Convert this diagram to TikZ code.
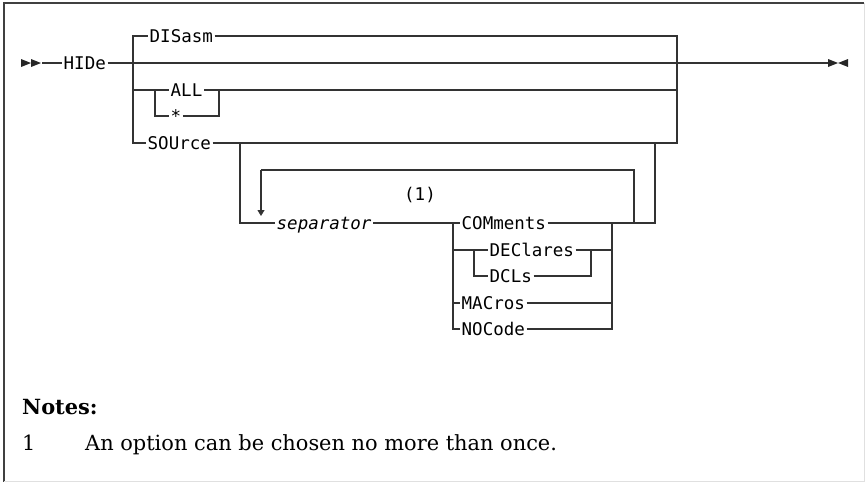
\documentclass[tikz,border=0pt]{standalone}
\usepackage{fontspec}
\newfontfamily\railfont{DejaVu Sans Mono}
\newfontfamily\notefont{DejaVu Serif}
\usepackage{tikz}
\usetikzlibrary{positioning,arrows.meta}

\tikzset{
  kw/.style={font=\railfont\fontsize{17.5}{19}\selectfont,inner xsep=1.5pt,inner ysep=0pt,
    text height=12pt,text depth=0pt,anchor=west},
  var/.style={kw,font=\railfont\itshape\fontsize{17.5}{19}\selectfont},
  rail/.style={line width=1.1pt,draw=black!80},
  tip/.style={fill=black!85,draw=none},
  note/.style={anchor=base west,font=\notefont\fontsize{20.9}{24}\selectfont,inner sep=0pt},
}

\begin{document}
\begin{tikzpicture}[x=1pt,y=-1pt]
\useasboundingbox (0,0) rectangle (865,482);
% ---- frame ----
\draw[black!75,line width=1.2pt] (4,482) -- (4,3) -- (864,3);
\draw[black!12,line width=1pt] (864,3) -- (864,481) -- (4,481);
% ---- keywords ----
\node[kw] (hide)  at (62,63)  {HIDe};
\node[kw] (dis)   at (148,36) {DISasm};
\node[kw] (all)   at (169,90) {ALL};
\node[kw] (star)  at (169,116) {*};
\node[kw] (src)   at (146,143) {SOUrce};
\node[var] (sep)  at (275,223) {separator};
\node[kw] (com)   at (460,223) {COMments};
\node[kw] (dec)   at (488,250) {DEClares};
\node[kw] (dcl)   at (488,276) {DCLs};
\node[kw] (mac)   at (460,303) {MACros};
\node[kw] (noc)   at (460,329) {NOCode};
\node[font=\railfont\fontsize{17.5}{19}\selectfont] (ref) at (420,195) {(1)};
% ---- junctions ----
\coordinate (start) at (42,63);
\coordinate (stop)  at (828,63);
\coordinate (jl) at (133,63);
\coordinate (jr) at (677,63);
\coordinate (al) at (155,90);
\coordinate (ar) at (219,90);
\coordinate (sl) at (240,143);
\coordinate (sr) at (655,143);
\coordinate (rl) at (261,170);
\coordinate (rr) at (634,170);
\coordinate (cl) at (453,223);
\coordinate (cr) at (612,223);
\coordinate (dl) at (474,250);
\coordinate (dr) at (591,250);
% ---- start and end marks ----
\fill[tip] (21,59) -- (31,63) -- (21,67) -- cycle;
\fill[tip] (31,59) -- (41,63) -- (31,67) -- cycle;
\fill[tip] (828,59) -- (838,63) -- (828,67) -- cycle;
\fill[tip] (848,59) -- (838,63) -- (848,67) -- cycle;
% ---- main line ----
\draw[rail] (start) -- (hide.west);
\draw[rail] (hide.east) -- (jl) -- (jr) -- (stop);
% ---- DISasm / ALL / SOUrce ----
\draw[rail] (jl) |- (dis.west);
\draw[rail] (dis.east) -| (jr);
\draw[rail] (jl) |- (src.west);
\draw[rail] (src.east) -| (jr);
\draw[rail] (jl |- al) -- (al) -- (all.west);
\draw[rail] (all.east) -- (ar) -- (jr |- ar);
\draw[rail] (al) |- (star.west);
\draw[rail] (star.east) -| (ar);
% ---- SOUrce options ----
\draw[rail] (sl) |- (sep.west);
\draw[rail] (sep.east) -- (cl) -- (com.west);
\draw[rail] (com.east) -- (cr) -- (rr |- cr) -- (sr |- cr) -- (sr);
\draw[rail] (rr |- cr) -- (rr) -- (rl);
\draw[rail,-{Triangle[length=6pt,width=7pt]}] (rl) -- (261,216);
\draw[rail] (cl) |- (mac.west);
\draw[rail] (cl) |- (noc.west);
\draw[rail] (cl |- dl) -- (dl) -- (dec.west);
\draw[rail] (dec.east) -- (dr) -- (cr |- dr);
\draw[rail] (dl) |- (dcl.west);
\draw[rail] (dcl.east) -| (dr);
\draw[rail] (mac.east) -- (cr |- mac.west);
\draw[rail] (noc.east) -| (cr);
% ---- notes ----
\node[note,font=\notefont\bfseries\fontsize{20.9}{24}\selectfont] (notes) at (22,414) {Notes:};
\node[note] (num) at (22,450) {1};
\node[note] (note1) at (85,450) {An option can be chosen no more than once.};
\end{tikzpicture}
\end{document}
